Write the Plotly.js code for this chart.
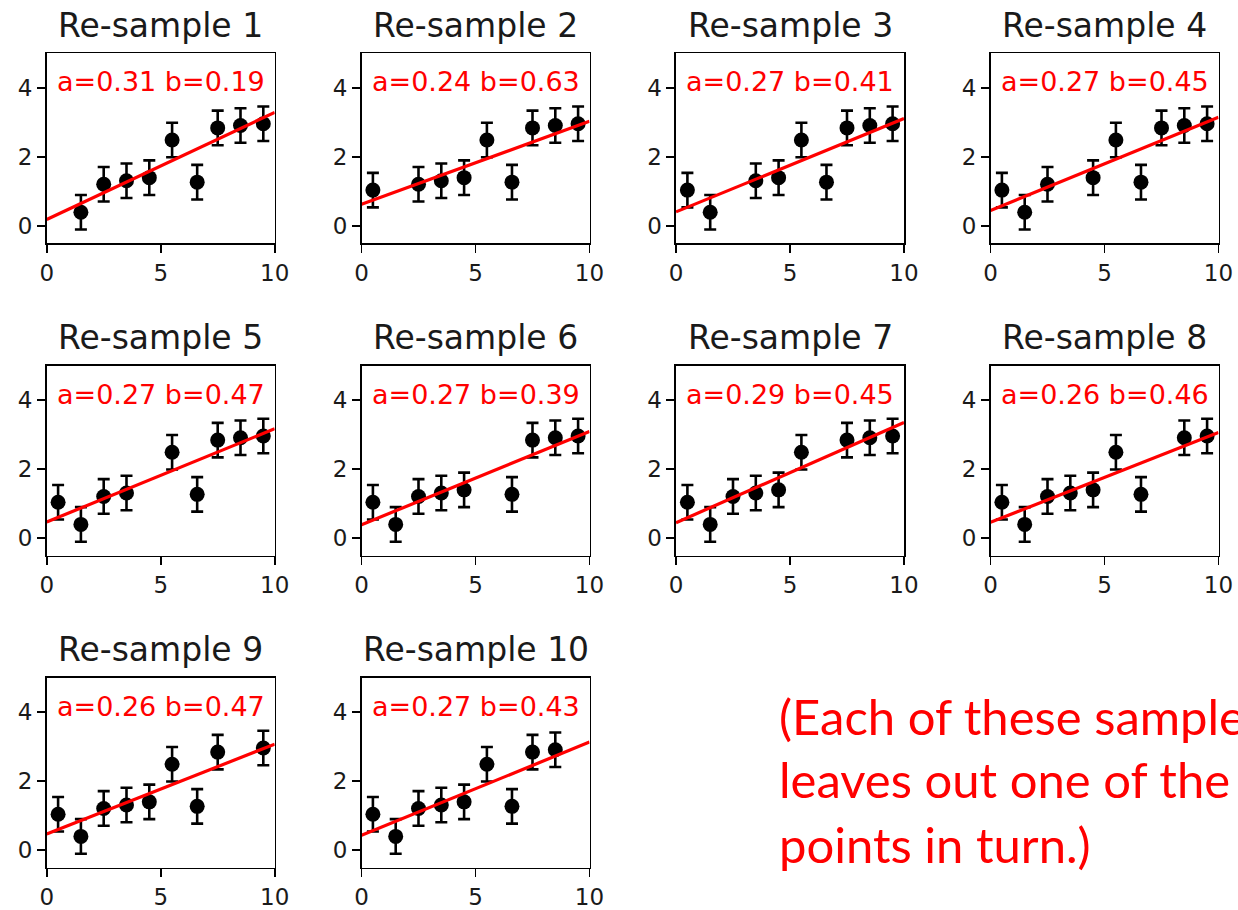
<!DOCTYPE html>
<html>
<head>
<meta charset="utf-8">
<script src="https://cdn.plot.ly/plotly-3.0.1.min.js"></script>
<style>
  html, body { margin: 0; padding: 0; background: #ffffff; }
  #chart { width: 1238px; height: 910px; }
</style>
</head>
<body>
<div id="chart"></div>
<script>
// Full set of measurements (x, y, y-uncertainty)
const xValues = [0.5, 1.5, 2.5, 3.5, 4.5, 5.5, 6.6, 7.5, 8.5, 9.5];
const yValues = [1.04, 0.40, 1.21, 1.31, 1.40, 2.49, 1.27, 2.84, 2.91, 2.96];
const yErrors = [0.5, 0.5, 0.5, 0.5, 0.5, 0.5, 0.5, 0.5, 0.5, 0.5];

// Straight-line fit y = a*x + b for each leave-one-out re-sample
const slopes     = [0.31, 0.24, 0.27, 0.27, 0.27, 0.27, 0.29, 0.26, 0.26, 0.27];
const intercepts = [0.19, 0.63, 0.41, 0.45, 0.47, 0.39, 0.45, 0.46, 0.47, 0.43];
const sampleTitles = ["Re-sample 1", "Re-sample 2", "Re-sample 3", "Re-sample 4", "Re-sample 5",
                      "Re-sample 6", "Re-sample 7", "Re-sample 8", "Re-sample 9", "Re-sample 10"];
const lineX = [0, 10];
const xTicks = [0, 5, 10];
const yTicks = [0, 2, 4];
const noteLines = ["(Each of these samples", "leaves out one of the", "points in turn.)"];

// Page geometry (pixels)
const W = 1238, H = 910;
const colLeft = [46.7, 361.5, 676, 990.5];
const rowTop = [53.3, 365.5, 677.5];
const boxW = 228, boxH = 190;

const px = v => v / W;
const py = v => 1 - v / H;

const traces = [];
const layout = {
  width: W, height: H,
  margin: {l: 0, r: 0, t: 0, b: 0},
  paper_bgcolor: "#ffffff",
  plot_bgcolor: "#ffffff",
  showlegend: false,
  annotations: []
};

const tickFont = {family: "DejaVu Sans", size: 23, color: "#1a1a1a"};

for (let k = 0; k < sampleTitles.length; k++) {
  const row = Math.floor(k / 4), col = k % 4;
  const n = k + 1;
  const xa = "x" + (n === 1 ? "" : n), ya = "y" + (n === 1 ? "" : n);
  const xKey = "xaxis" + (n === 1 ? "" : n), yKey = "yaxis" + (n === 1 ? "" : n);

  // drop the k-th point
  const xs = xValues.filter((_, i) => i !== k);
  const ys = yValues.filter((_, i) => i !== k);
  const es = yErrors.filter((_, i) => i !== k);

  traces.push({
    type: "scatter", mode: "markers", x: xs, y: ys,
    xaxis: xa, yaxis: ya,
    marker: {color: "#000000", size: 15},
    error_y: {type: "data", array: es, visible: true, color: "#000000", thickness: 2.6, width: 6},
    hoverinfo: "skip", cliponaxis: true
  });

  const a = slopes[k], b = intercepts[k];
  traces.push({
    type: "scatter", mode: "lines", x: lineX, y: lineX.map(v => a * v + b),
    xaxis: xa, yaxis: ya,
    line: {color: "#ff0000", width: 3.2},
    hoverinfo: "skip"
  });

  const x0 = colLeft[col], y0 = rowTop[row];
  layout[xKey] = {
    domain: [px(x0), px(x0 + boxW)], anchor: ya,
    range: [0, 10], tickvals: xTicks, ticktext: xTicks.map(String),
    showgrid: false, zeroline: false, showline: true, mirror: true,
    linecolor: "#000000", linewidth: 1.6,
    ticks: "outside", ticklen: 8, tickwidth: 1.6, tickcolor: "#000000",
    tickfont: tickFont, fixedrange: true
  };
  layout[yKey] = {
    domain: [py(y0 + boxH), py(y0)], anchor: xa,
    range: [-0.5, 5], tickvals: yTicks, ticktext: yTicks.map(String),
    showgrid: false, zeroline: false, showline: true, mirror: true,
    linecolor: "#000000", linewidth: 1.6,
    ticks: "outside", ticklen: 8, tickwidth: 1.6, tickcolor: "#000000",
    tickfont: tickFont, fixedrange: true
  };

  // subplot title
  layout.annotations.push({
    xref: "paper", yref: "paper",
    x: px(x0 + boxW / 2), y: py(y0 - 28),
    xanchor: "center", yanchor: "middle", showarrow: false,
    text: sampleTitles[k],
    font: {family: "DejaVu Sans", size: 33, color: "#1a1a1a"}
  });

  // fit parameters
  layout.annotations.push({
    xref: xa, yref: ya, x: 5, y: 4.17,
    xanchor: "center", yanchor: "middle", showarrow: false,
    text: "a=" + a.toFixed(2) + " b=" + b.toFixed(2),
    font: {family: "DejaVu Sans", size: 27, color: "#ff0000"}
  });
}

// explanatory note, one line per annotation
const noteBaselines = [735, 798.3, 862.7];
noteLines.forEach((t, i) => {
  layout.annotations.push({
    xref: "paper", yref: "paper",
    x: px(777), y: py(noteBaselines[i] - 19),
    xanchor: "left", yanchor: "middle", showarrow: false,
    text: t,
    font: {family: "Lato", size: 49, color: "#ff0000"}
  });
});

Plotly.newPlot("chart", traces, layout, {displayModeBar: false, staticPlot: true});
</script>
</body>
</html>
